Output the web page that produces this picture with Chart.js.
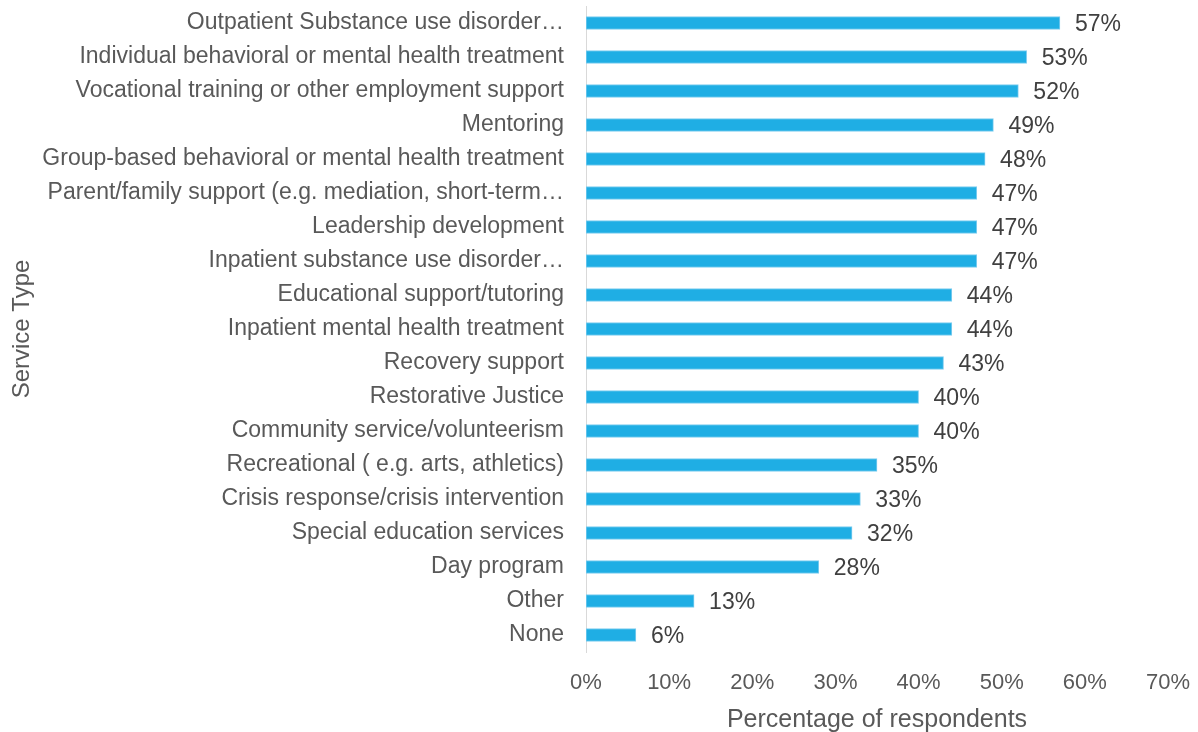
<!DOCTYPE html>
<html><head><meta charset="utf-8">
<script src="https://cdn.jsdelivr.net/npm/chart.js@4"></script>
<style>html,body{margin:0;padding:0;background:#fff}#wrap{width:1198px;height:732px}</style>
</head><body><div id="wrap"><canvas id="c"></canvas></div>
<script>
const categories = ["Outpatient Substance use disorder…","Individual behavioral or mental health treatment","Vocational training or other employment support","Mentoring","Group-based behavioral or mental health treatment","Parent/family support (e.g. mediation, short-term…","Leadership development","Inpatient substance use disorder…","Educational support/tutoring","Inpatient mental health treatment","Recovery support","Restorative Justice","Community service/volunteerism","Recreational ( e.g. arts, athletics)","Crisis response/crisis intervention","Special education services","Day program","Other","None"];
const values = [57,53,52,49,48,47,47,47,44,44,43,40,40,35,33,32,28,13,6];
const xTicks = [0,10,20,30,40,50,60,70];

const labelPlugin = {
  id:'vals',
  afterDatasetsDraw(chart){
    const ctx = chart.ctx;
    const meta = chart.getDatasetMeta(0);
    ctx.save();
    ctx.font = '23px "Liberation Sans", Arial, sans-serif';
    ctx.fillStyle = '#404040';
    ctx.textBaseline = 'middle';
    ctx.textAlign = 'left';
    meta.data.forEach((el,i)=>{
      ctx.fillText(values[i]+'%', el.x + 15, el.y + 2);
    });
    ctx.restore();
  }
};

new Chart(document.getElementById('c'), {
  type:'bar',
  data:{labels:categories, datasets:[{data:values, backgroundColor:'#1FAEE4', borderColor:'#7FCDEF', borderWidth:1, barThickness:13, borderSkipped:false}]},
  options:{
    indexAxis:'y', responsive:true, maintainAspectRatio:false, animation:false,
    layout:{padding:{top:6,right:30,bottom:0,left:0}},
    plugins:{legend:{display:false}, tooltip:{enabled:false}},
    scales:{
      x:{min:0,max:70,
        afterBuildTicks(s){ s.ticks = xTicks.map(v=>({value:v})); },
        afterFit(s){ s.height = 80; s.paddingLeft = 0; s.paddingRight = 0; },
        grid:{display:false, drawTicks:false},
        border:{display:false},
        ticks:{padding:18, color:'#595959', font:{family:'"Liberation Sans", sans-serif', size:22}, callback:v=>v+'%'},
        title:{display:true, text:'Percentage of respondents', color:'#595959', font:{family:'"Liberation Sans", sans-serif', size:25}, padding:{top:0,bottom:-3}}
      },
      y:{
        afterFit(s){ s.width = 586; s.paddingTop = 0; s.paddingBottom = 0; },
        grid:{display:false, drawTicks:false},
        border:{display:true, color:'#d9d9d9', width:1},
        ticks:{padding:22, color:'#595959', font:{family:'"Liberation Sans", sans-serif', size:23}},
        title:{display:true, text:'Service Type', color:'#595959', font:{family:'"Liberation Sans", Arial, sans-serif', size:24}, padding:{top:8,bottom:0}}
      }
    }
  },
  plugins:[labelPlugin]
});
</script></body></html>
